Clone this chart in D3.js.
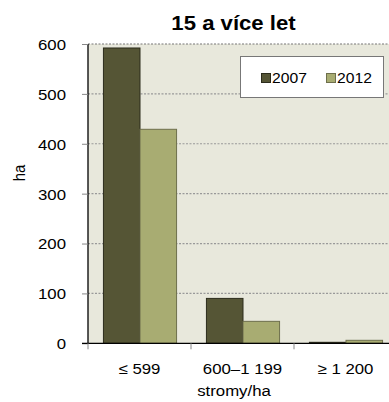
<!DOCTYPE html>
<html><head><meta charset="utf-8">
<script src="https://cdn.jsdelivr.net/npm/d3@7"></script>
<style>
body{margin:0;background:#fff;}
svg text{font-family:"Liberation Sans",Arial,sans-serif;fill:#000;}
</style></head>
<body>
<svg id="c" width="389" height="402"></svg>
<script>
const categories = ["≤ 599", "600–1 199", "≥ 1 200"];
const seriesNames = ["2007", "2012"];
const values2007 = [592, 90, 2];
const values2012 = [429, 44, 6];
const yTicks = [0, 100, 200, 300, 400, 500, 600];
const title = "15 a více let";
const xTitle = "stromy/ha";
const yTitle = "ha";

const colors = ["#555535", "#A8AC72"];
const strokes = ["#2c2c1c", "#6e6f4c"];
const sx = 1.12;

const svg = d3.select("#c");
const pL = 88, pR = 397, pT = 44, pB = 343.3;

const x0 = d3.scaleBand().domain(categories).range([pL, pR]).paddingInner(0).paddingOuter(0);
const y = d3.scaleLinear().domain([0, 600]).range([pB, pT]);

// plot background
svg.append("rect").attr("x", pL).attr("y", pT).attr("width", 389 - pL).attr("height", pB - pT).attr("fill", "#E8E8DC");

// gridlines
svg.append("g").selectAll("line").data(yTicks.filter(d => d > 0)).join("line")
  .attr("x1", pL).attr("x2", 389).attr("y1", d => y(d)).attr("y2", d => y(d))
  .attr("stroke", d => d === 600 ? "#777" : "#999").attr("stroke-width", 1.2).attr("stroke-dasharray", "2,1.5");

// bars
const bw = x0.bandwidth();
const gap = bw * 0.145;
const x1 = d3.scaleBand().domain(seriesNames).range([gap, bw - gap]).padding(0);
const data = [values2007, values2012];
seriesNames.forEach((s, si) => {
  svg.append("g").selectAll("rect").data(categories.map((c, i) => ({c, v: data[si][i]}))).join("rect")
    .attr("x", d => x0(d.c) + x1(s) + 0.5)
    .attr("y", d => y(d.v))
    .attr("width", x1.bandwidth())
    .attr("height", d => Math.max(0.5, pB - y(d.v)))
    .attr("fill", colors[si]).attr("stroke", strokes[si]).attr("stroke-width", 1);
});

// y axis
const yAxis = d3.axisLeft(y).tickValues(yTicks).tickSize(6).tickPadding(16).tickFormat(d3.format("d"));
const ga = svg.append("g").attr("transform", `translate(${pL},0)`).call(yAxis);
ga.select(".domain").attr("stroke", "#000").attr("stroke-width", 1.3).attr("d", `M0,${pT}V${pB}`);
ga.selectAll(".tick line").attr("stroke", "#888");
ga.selectAll(".tick text").attr("font-size", 15).attr("dy", "0.36em")
  .attr("transform", `scale(${sx},1)`).attr("x", -22 / sx);

// x axis
const xAxis = d3.axisBottom(x0).tickSize(0).tickPadding(20);
const gx = svg.append("g").attr("transform", `translate(0,${pB})`).call(xAxis);
gx.select(".domain").attr("stroke", "#000").attr("stroke-width", 1.3).attr("d", `M${pL - 6},0H389`);
gx.selectAll(".tick text").attr("font-size", 15).attr("dy", "0.71em")
  .attr("transform", `scale(${sx},1)`);
// category boundary ticks
svg.append("g").selectAll("line").data(categories).join("line")
  .attr("x1", d => x0(d)).attr("x2", d => x0(d)).attr("y1", pB).attr("y2", pB + 6)
  .attr("stroke", "#888");

// title
svg.append("text").attr("transform", `translate(233.5,30) scale(1.08,1)`).attr("text-anchor", "middle")
  .attr("font-size", 20.5).attr("font-weight", "bold").text(title);

// axis titles
svg.append("text").attr("transform", `translate(234,396) scale(${sx},1)`).attr("text-anchor", "middle")
  .attr("font-size", 15).text(xTitle);
svg.append("text").attr("transform", `translate(25,173) rotate(-90) scale(1,${sx})`).attr("text-anchor", "middle")
  .attr("font-size", 15).text(yTitle);

// legend
const lg = svg.append("g");
lg.append("rect").attr("x", 240.5).attr("y", 56.5).attr("width", 143).attr("height", 41)
  .attr("fill", "#fff").attr("stroke", "#777").attr("stroke-width", 1);
const lx = [261, 326];
seriesNames.forEach((s, i) => {
  lg.append("rect").attr("x", lx[i] + 0.5).attr("y", 73.5).attr("width", 9).attr("height", 9)
    .attr("fill", colors[i]).attr("stroke", strokes[i]);
  lg.append("text").attr("transform", `translate(${lx[i] + 11},83) scale(${sx},1)`)
    .attr("font-size", 14).text(s);
});
</script>
</body></html>
